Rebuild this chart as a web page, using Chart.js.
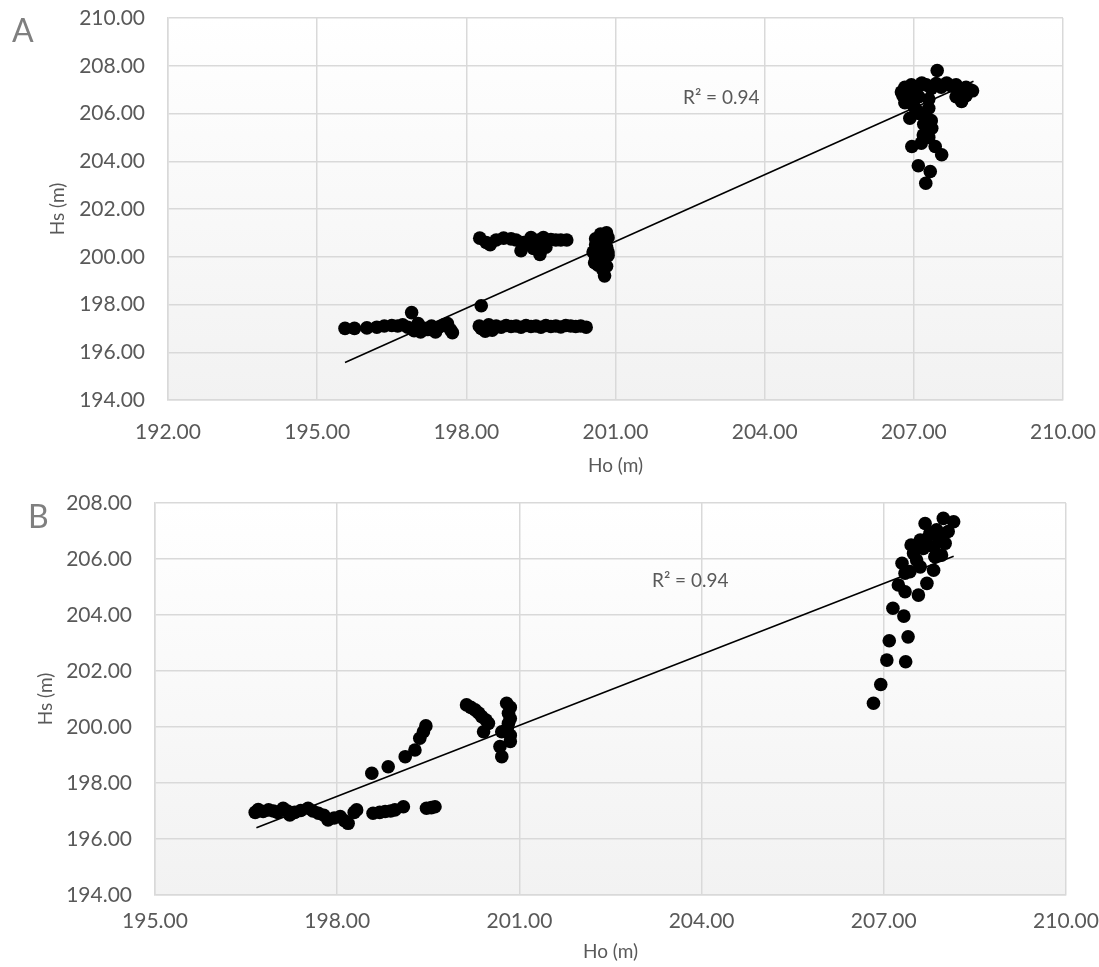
<!DOCTYPE html>
<html><head><meta charset="utf-8">
<script src="https://cdn.jsdelivr.net/npm/chart.js@4.4.1/dist/chart.umd.min.js"></script>
<style>
body{margin:0;background:#fff;width:1099px;height:967px;position:relative;overflow:hidden;font-family:Lato,"Open Sans",sans-serif;}
#wa{position:absolute;left:0;top:0;width:1099px;height:482px}
#wb{position:absolute;left:0;top:482px;width:1099px;height:485px}
.lab{position:absolute;color:#7f7f7f;font-size:32px;line-height:32px;}
.r2{position:absolute;color:#595959;font-size:19px;line-height:22px;white-space:nowrap;}
</style></head><body>
<div id="wa"><canvas id="ca" width="1099" height="482"></canvas></div>
<div id="wb"><canvas id="cb" width="1099" height="485"></canvas></div>
<div class="lab" style="left:12px;top:14px">A</div>
<div class="lab" style="left:28px;top:500px">B</div>
<div class="r2" style="left:683px;top:86px">R² = 0.94</div>
<div class="r2" style="left:652px;top:569px">R² = 0.94</div>
<script>
// ---------- Chart A data ----------
const aX = [195.56,195.75,196.0,196.2,196.35,196.5,196.62,196.72,196.82,196.9,196.95,197.03,197.08,197.15,197.22,197.3,197.38,197.45,197.55,197.62,197.68,197.72,
  198.26,198.3,198.38,198.45,198.52,198.6,198.7,198.8,198.9,199.0,199.1,199.2,199.3,199.4,199.5,199.6,199.7,199.8,199.9,200.0,200.1,200.2,200.3,200.41,198.3,
  198.27,198.4,198.48,198.6,198.75,198.9,199.0,199.1,199.15,199.2,199.3,199.35,199.45,199.48,199.55,199.6,199.7,199.8,199.9,200.02,
  200.6,200.7,200.82,200.6,200.78,200.85,200.55,200.72,200.82,200.6,200.85,200.58,200.75,200.82,200.75,200.78,200.85,200.65,
  207.47,206.75,206.78,206.82,206.9,206.95,207.05,207.16,207.25,207.35,207.45,207.55,207.66,207.75,207.85,207.95,208.05,208.13,208.18,207.96,207.85,208.05,206.96,206.82,207.1,207.3,207.0,206.92,207.1,207.3,207.25,207.36,207.19,207.15,207.3,206.96,207.43,207.56,207.09,207.33,207.24,207.2,207.05,207.35];
const aY = [197.0,197.0,197.02,197.05,197.1,197.12,197.1,197.15,197.05,197.66,196.9,197.2,196.85,197.0,196.95,197.1,196.85,197.05,197.15,197.2,196.95,196.82,
  197.1,197.0,196.88,197.15,196.92,197.1,197.05,197.12,197.08,197.1,197.05,197.12,197.08,197.1,197.05,197.12,197.08,197.1,197.06,197.12,197.1,197.08,197.1,197.05,197.95,
  200.78,200.6,200.5,200.7,200.78,200.75,200.7,200.25,200.6,200.5,200.8,200.35,200.7,200.1,200.8,200.4,200.72,200.7,200.7,200.7,
  200.75,200.95,201.0,200.5,200.6,200.8,200.2,200.3,200.4,199.95,200.05,199.75,199.85,199.6,199.45,199.2,200.2,199.65,
  207.8,206.9,206.75,207.1,206.95,207.2,207.0,207.28,207.2,207.05,207.25,207.1,207.28,207.15,207.2,207.05,207.1,206.99,206.95,206.5,206.7,206.75,206.57,206.45,206.7,206.6,206.3,205.8,206.0,206.22,205.85,205.38,205.1,204.76,205.0,204.62,204.62,204.27,203.81,203.57,203.08,205.55,206.15,205.7];
const aTrendX = [195.56, 208.2];
const aTrendY = [195.57, 207.35];
const aXTicks = [192,195,198,201,204,207,210];
const aYTicks = [194,196,198,200,202,204,206,208,210];

// ---------- Chart B data ----------
const bX = [196.65,196.7,196.78,196.87,196.95,197.02,197.11,197.18,197.22,197.3,197.4,197.52,197.6,197.69,197.78,197.85,197.95,198.05,198.12,198.18,198.28,198.32,198.59,198.7,198.79,198.88,198.95,199.09,199.47,199.55,199.61,
  198.57,198.84,199.12,199.28,199.36,199.42,199.46,
  200.13,200.2,200.27,200.33,200.38,200.45,200.49,200.41,200.79,200.85,200.82,200.85,200.82,200.85,200.71,200.85,200.68,200.71,200.8,
  206.83,206.95,207.05,207.36,207.09,207.4,207.15,207.33,207.24,207.35,207.57,207.3,207.43,207.71,207.82,207.6,207.68,207.98,208.15,208.01,207.95,207.84,207.49,207.76,207.54,207.87,207.65,208.06,207.35,207.82,207.6,207.7,207.9,207.45];
const bY = [196.95,197.05,196.98,197.04,197.0,196.95,197.1,197.0,196.86,196.95,197.02,197.1,197.0,196.92,196.85,196.68,196.75,196.8,196.65,196.56,196.95,197.04,196.92,196.95,196.98,197.0,197.04,197.15,197.1,197.12,197.15,
  198.35,198.58,198.94,199.18,199.6,199.83,200.04,
  200.79,200.7,200.61,200.5,200.37,200.25,200.13,199.83,200.85,200.7,200.49,200.3,200.13,199.48,199.83,199.7,199.3,198.94,199.95,
  200.85,201.52,202.39,202.33,203.08,203.22,204.24,203.96,205.07,204.83,204.71,205.85,205.55,205.13,205.6,206.68,207.27,207.45,207.33,206.56,206.14,206.08,206.2,206.92,205.96,207.04,206.38,206.98,205.49,206.44,205.72,206.7,206.8,206.5];
const bTrendX = [196.67, 208.15];
const bTrendY = [196.4, 206.1];
const bXTicks = [195,198,201,204,207,210];
const bYTicks = [194,196,198,200,202,204,206,208];

const TXT = '#595959';
const GRID = '#d9d9d9';
const FONT = 'Lato, "Open Sans", sans-serif';

const bgPlugin = {
  id: 'plotbg',
  beforeDraw(chart) {
    const {ctx, chartArea: a} = chart;
    const g = ctx.createLinearGradient(0, a.top, 0, a.bottom);
    g.addColorStop(0, '#ffffff');
    g.addColorStop(1, '#f2f2f2');
    ctx.save();
    ctx.fillStyle = g;
    ctx.fillRect(a.left, a.top, a.right - a.left, a.bottom - a.top);
    ctx.restore();
  }
};

function pts(xs, ys) { return xs.map((x, i) => ({x: x, y: ys[i]})); }

function build(id, c) {
  return new Chart(document.getElementById(id), {
    type: 'scatter',
    data: {
      datasets: [
        { data: pts(c.xs, c.ys), backgroundColor: '#000', pointRadius: 6.8, pointBorderWidth: 0, pointHoverRadius: 6.8 },
        { type: 'line', data: pts(c.tx, c.ty), borderColor: '#000', borderWidth: 1.6, pointRadius: 0, fill: false, showLine: true }
      ]
    },
    options: {
      responsive: false,
      animation: false,
      events: [],
      layout: { padding: c.pad },
      plugins: { legend: { display: false }, tooltip: { enabled: false } },
      scales: {
        x: {
          type: 'linear', min: c.xt[0], max: c.xt[c.xt.length - 1],
          afterBuildTicks: s => { s.ticks = c.xt.map(v => ({value: v})); },
          afterFit: s => { s.height = c.xh; s.paddingLeft = 0; s.paddingRight = 0; },
          grid: { color: GRID, lineWidth: 1.5, drawTicks: false },
          border: { color: GRID, width: 1.5 },
          ticks: { color: TXT, font: { family: FONT, size: 21 }, padding: c.xtp, maxRotation: 0, callback: v => Number(v).toFixed(2) },
          title: { display: true, text: 'Ho (m)', color: TXT, font: { family: FONT, size: 19 }, padding: { top: 0, bottom: c.xtitle } }
        },
        y: {
          type: 'linear', min: c.yt[0], max: c.yt[c.yt.length - 1],
          afterBuildTicks: s => { s.ticks = c.yt.map(v => ({value: v})); },
          afterFit: s => { s.width = c.yw; s.paddingTop = 0; s.paddingBottom = 0; },
          grid: { color: GRID, lineWidth: 1.5, drawTicks: false },
          border: { color: GRID, width: 1.5 },
          ticks: { color: TXT, font: { family: FONT, size: 21 }, padding: 23, callback: v => Number(v).toFixed(2) },
          title: { display: true, text: 'Hs (m)', color: TXT, font: { family: FONT, size: 19 }, padding: { top: c.ytitle, bottom: 0 } }
        }
      }
    },
    plugins: [bgPlugin]
  });
}

build('ca', { xs: aX, ys: aY, tx: aTrendX, ty: aTrendY, xt: aXTicks, yt: aYTicks,
  pad: { left: 0, right: 36, top: 18, bottom: 2 }, yw: 168, xh: 80, xtp: 20, xtitle: 3, ytitle: 46 });
build('cb', { xs: bX, ys: bY, tx: bTrendX, ty: bTrendY, xt: bXTicks, yt: bYTicks,
  pad: { left: 0, right: 33, top: 21, bottom: 2 }, yw: 155, xh: 70, xtp: 14, xtitle: 2, ytitle: 34 });
</script>
</body></html>
